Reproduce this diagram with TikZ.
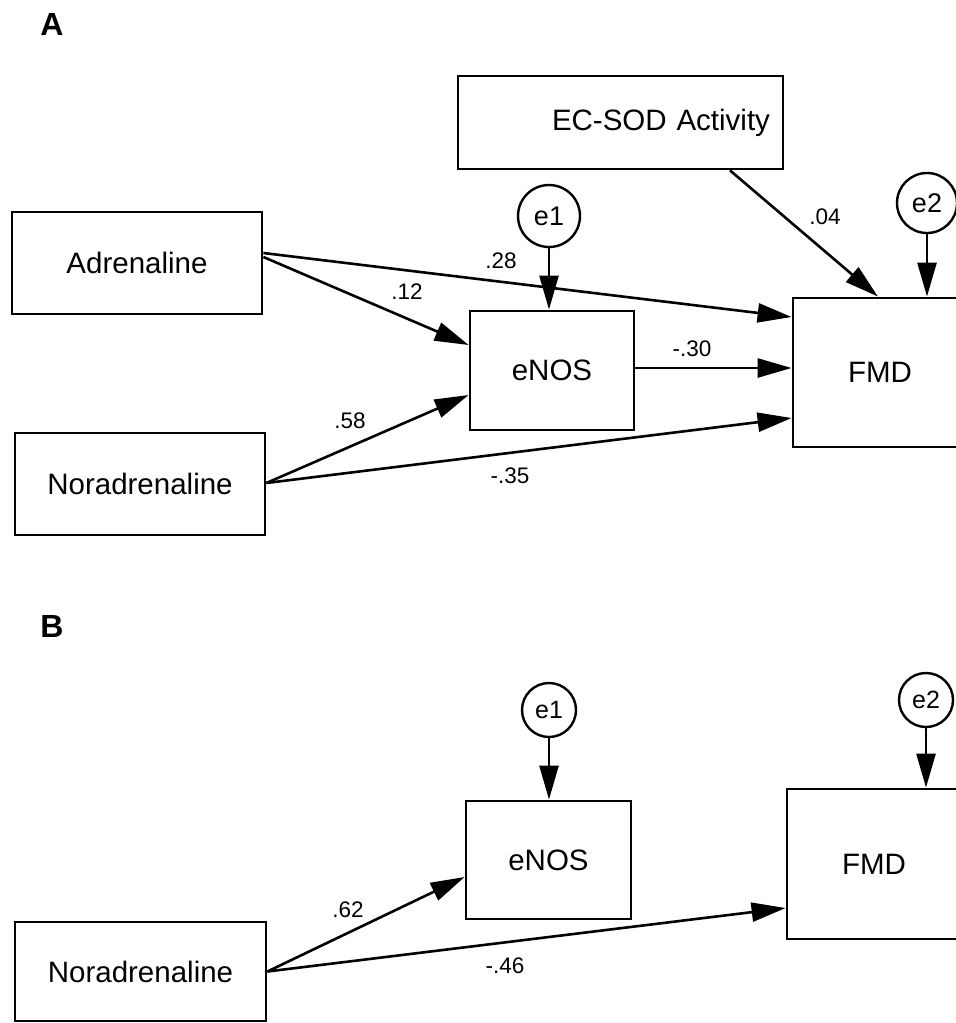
\documentclass[tikz,border=0pt]{standalone}
\usepackage{fontspec}
\setmainfont{Liberation Sans}
\usetikzlibrary{arrows.meta}
\begin{document}
\begin{tikzpicture}[x=1pt,y=-1pt,
    box/.style={draw, line width=2.8pt, inner sep=0pt, font=\fontsize{29.5}{32}\selectfont},
    err/.style={draw, circle, line width=2.4pt, inner sep=0pt},
    link/.style={line width=2.6pt, -{Triangle[length=34pt,width=19pt]}},
    coef/.style={font=\fontsize{22.5}{24}\selectfont},
    panel/.style={font=\bfseries\fontsize{32}{34}\selectfont}]
        \useasboundingbox (0,0) rectangle (956,1023);
        \clip (0,0) rectangle (956,1023);
        \node[panel] (lblA) at (52,24) {A};
        \node[box, minimum height=93pt, text width=299pt, inner xsep=13pt, align=right] (ecsod) at (620.5,122.5) {EC-SOD Activity};
        \node[box, minimum width=250pt, minimum height=102pt] (adr) at (137,263) {Adrenaline};
        \node[box, minimum width=250pt, minimum height=102pt] (nora) at (140,484) {Noradrenaline};
        \node[box, minimum width=164pt, minimum height=119pt] (enosa) at (552,370.5) {eNOS};
        \node[box, minimum width=174pt, minimum height=149pt] (fmda) at (880,372.5) {FMD};
        \node[err, minimum size=62pt, font=\fontsize{27}{30}\selectfont] (e1a) at (549,216) {e1};
        \node[err, minimum size=60pt, font=\fontsize{27}{30}\selectfont] (e2a) at (927,203) {e2};
        \draw[link] ([yshift=10pt]adr.east) -- ([yshift=55.5pt]fmda.west);
        \draw[link] ([yshift=6pt]adr.east) -- ([yshift=25.5pt]enosa.west);
        \draw[link] ([yshift=1pt]nora.east) -- ([yshift=-24.5pt]enosa.west);
        \draw[link] ([yshift=1pt]nora.east) -- ([yshift=-45.5pt]fmda.west);
        \draw[link] ([yshift=2.5pt]enosa.east) -- ([yshift=4.5pt]fmda.west);
        \draw[link] ([xshift=109.5pt]ecsod.south) -- ([xshift=-2pt]fmda.north);
        \draw[link] (e1a.south) -- (e1a.south |- enosa.north);
        \draw[link] (e2a.south) -- (e2a.south |- fmda.north);
        \node[coef] (c28) at (501,261) {.28};
        \node[coef] (c12) at (407,292) {.12};
        \node[coef] (c58) at (350,421) {.58};
        \node[coef] (c35) at (510,476) {-.35};
        \node[coef] (c30) at (692,349) {-.30};
        \node[coef] (c04) at (825,217) {.04};
        \node[panel] (lblB) at (52,626) {B};
        \node[box, minimum width=165pt, minimum height=118pt] (enosb) at (548.5,860) {eNOS};
        \node[box, minimum width=174pt, minimum height=150pt] (fmdb) at (874,864) {FMD};
        \node[box, minimum width=251pt, minimum height=99pt] (norb) at (140.5,971.5) {Noradrenaline};
        \node[err, minimum size=54pt, font=\fontsize{25}{28}\selectfont] (e1b) at (549,710) {e1};
        \node[err, minimum size=54pt, font=\fontsize{25}{28}\selectfont] (e2b) at (926,700) {e2};
        \draw[link] (norb.east) -- ([yshift=-17pt]enosb.west);
        \draw[link] (norb.east) -- ([yshift=-44pt]fmdb.west);
        \draw[link] (e1b.south) -- (e1b.south |- enosb.north);
        \draw[link] (e2b.south) -- (e2b.south |- fmdb.north);
        \node[coef] (c62) at (348,910) {.62};
        \node[coef] (c46) at (505,966) {-.46};
\end{tikzpicture}
\end{document}
